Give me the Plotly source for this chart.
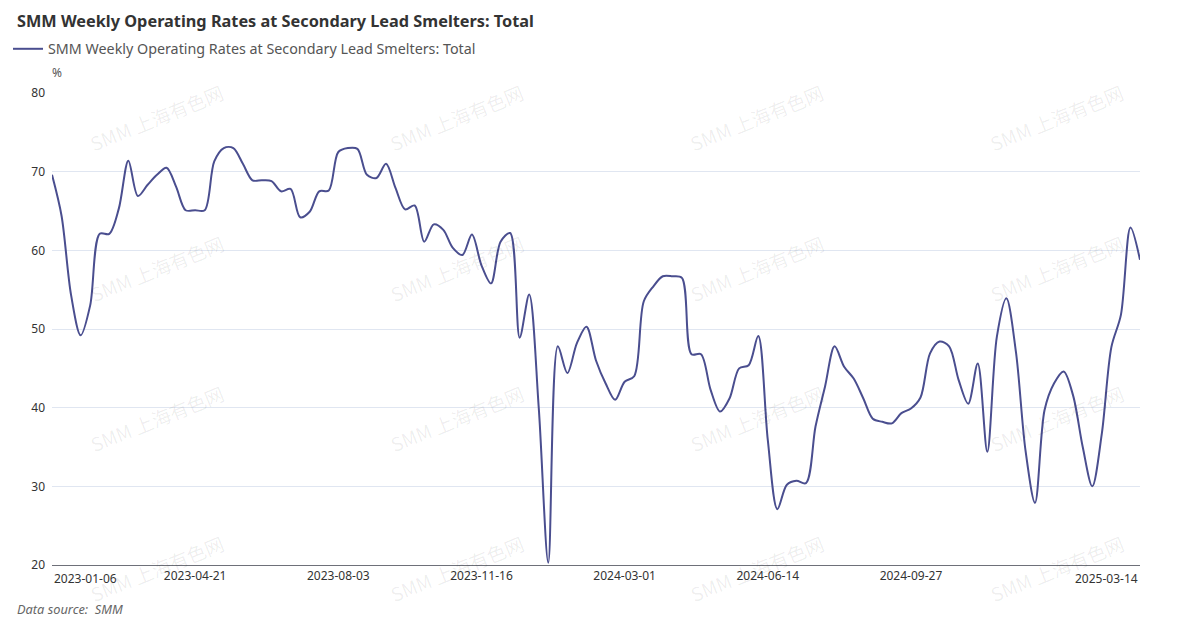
import pandas as pd
import plotly.graph_objects as go

title_text = "SMM Weekly Operating Rates at Secondary Lead Smelters: Total"
series_name = "SMM Weekly Operating Rates at Secondary Lead Smelters: Total"

# weekly operating rate (%), 2023-01-06 .. 2025-03-14
rate = [
    69.6, 64.4, 54.3, 49.2, 53.0, 62.1, 62.1, 65.3, 71.4, 66.9,
    68.3, 69.6, 70.5, 68.1, 65.1, 65.1, 65.1, 71.3, 73.0, 73.0,
    71.0, 68.9, 68.9, 68.8, 67.5, 67.8, 64.2, 64.9, 67.5, 67.6,
    72.5, 73.0, 72.9, 69.6, 69.2, 71.0, 67.9, 65.2, 65.7, 61.1,
    63.3, 62.6, 60.3, 59.4, 62.0, 58.1, 55.8, 61.1, 62.2, 48.9,
    54.4, 40.0, 20.3, 47.8, 44.4, 48.2, 50.3, 46.0, 43.1, 41.0,
    43.3, 44.0, 53.5, 55.4, 56.7, 56.7, 56.5, 46.8, 46.8, 42.3,
    39.5, 41.2, 45.0, 45.4, 49.1, 35.9, 27.1, 30.2, 30.7, 30.4,
    37.6, 42.7, 47.8, 45.2, 43.7, 41.2, 38.6, 38.2, 38.0, 39.3,
    39.9, 41.3, 46.9, 48.4, 47.8, 43.5, 40.5, 45.6, 34.4, 49.0,
    53.9, 47.1, 34.6, 27.9, 39.7, 43.1, 44.6, 41.5, 35.0, 30.0,
    36.7, 47.7, 51.8, 62.9, 58.8,
]
dates = pd.date_range("2023-01-06", periods=len(rate), freq="7D").strftime("%Y-%m-%d").tolist()

tick_labels = ["2023-01-06", "2023-04-21", "2023-08-03", "2023-11-16",
               "2024-03-01", "2024-06-14", "2024-09-27", "2025-03-14"]
tick_idx = [0, 15, 30, 45, 60, 75, 90, 114]

y_ticks = [20, 30, 40, 50, 60, 70, 80]

# page offset (browser body margin) compensation
O = 8
W, H = 1180 - O, 621 - O
L, T = 52 - O, 93 - O
R = W - (1140 - O)
B = H - (565 - O)
pw, ph = W - L - R, H - T - B

def px_x(xw):  # window px -> paper x
    return (xw - O - L) / pw

def px_y(yw):  # window px -> paper y
    return (H - B - (yw - O)) / ph

def cx(xw):  # window px -> container x
    return (xw - O) / W

def cy(yw):  # window px -> container y
    return 1 - (yw - O) / H

fig = go.Figure()
fig.add_trace(go.Scatter(
    x=dates, y=rate, mode="lines", name=series_name,
    line=dict(color="#4a4e8f", width=2, shape="spline", smoothing=0.9),
))

annotations = []
# watermark
for wy in [118, 268, 418, 568]:
    for wx in [156, 456, 756, 1056]:
        annotations.append(dict(
            x=px_x(wx), y=px_y(wy), xref="paper", yref="paper",
            xanchor="center", yanchor="middle",
            text="SMM 上海有色网", showarrow=False, textangle=-22,
            font=dict(family="Noto Sans CJK SC, Noto Sans", size=19, color="rgba(0,0,0,0.07)"),
        ))
# unit
annotations.append(dict(x=px_x(57), y=px_y(72), xref="paper", yref="paper", text="%",
                        showarrow=False, font=dict(size=12, color="#555"), xanchor="center", yanchor="middle"))
# first / last x labels aligned to plot edges
annotations.append(dict(x=dates[tick_idx[0]], y=px_y(578), xref="x", yref="paper", text=tick_labels[0],
                        showarrow=False, xanchor="left", yanchor="middle", font=dict(size=12, color="#333")))
annotations.append(dict(x=dates[tick_idx[-1]], y=px_y(578), xref="x", yref="paper", text=tick_labels[-1],
                        showarrow=False, xanchor="right", yanchor="middle", font=dict(size=12, color="#333")))
# source
annotations.append(dict(x=px_x(15), y=px_y(609), xref="paper", yref="paper",
                        text="<i>Data source:\u00a0\u00a0SMM</i>",
                        showarrow=False, xanchor="left", yanchor="middle", font=dict(size=12.8, color="#666")))

fig.update_layout(
    width=W, height=H,
    margin=dict(l=L, r=R, t=T, b=B, autoexpand=False),
    paper_bgcolor="white", plot_bgcolor="white",
    font=dict(family="Noto Sans, sans-serif", color="#333"),
    title=dict(text="<b>" + title_text + "</b>", x=cx(17), xanchor="left", xref="container",
               y=cy(21), yanchor="middle", yref="container",
               font=dict(size=16.3, color="#333")),
    showlegend=True,
    legend=dict(orientation="h", x=cx(0.5), xanchor="left", xref="container",
                y=cy(49), yanchor="middle", yref="container",
                font=dict(size=14.3, color="#555"), bgcolor="rgba(0,0,0,0)"),
    annotations=annotations,
    xaxis=dict(type="category", range=[0, len(rate) - 1],
               tickvals=[dates[i] for i in tick_idx[1:-1]], ticktext=tick_labels[1:-1],
               showgrid=False, showline=True, linecolor="#6E7079", linewidth=1,
               ticks="", tickfont=dict(size=12, color="#333"), zeroline=False),
    yaxis=dict(range=[20, 80], tickvals=y_ticks, showgrid=True, gridcolor="#E0E6F1",
               showline=False, ticks="", zeroline=False, ticklabelstandoff=6,
               tickfont=dict(size=12, color="#333")),
)

fig.write_html("out.html")
